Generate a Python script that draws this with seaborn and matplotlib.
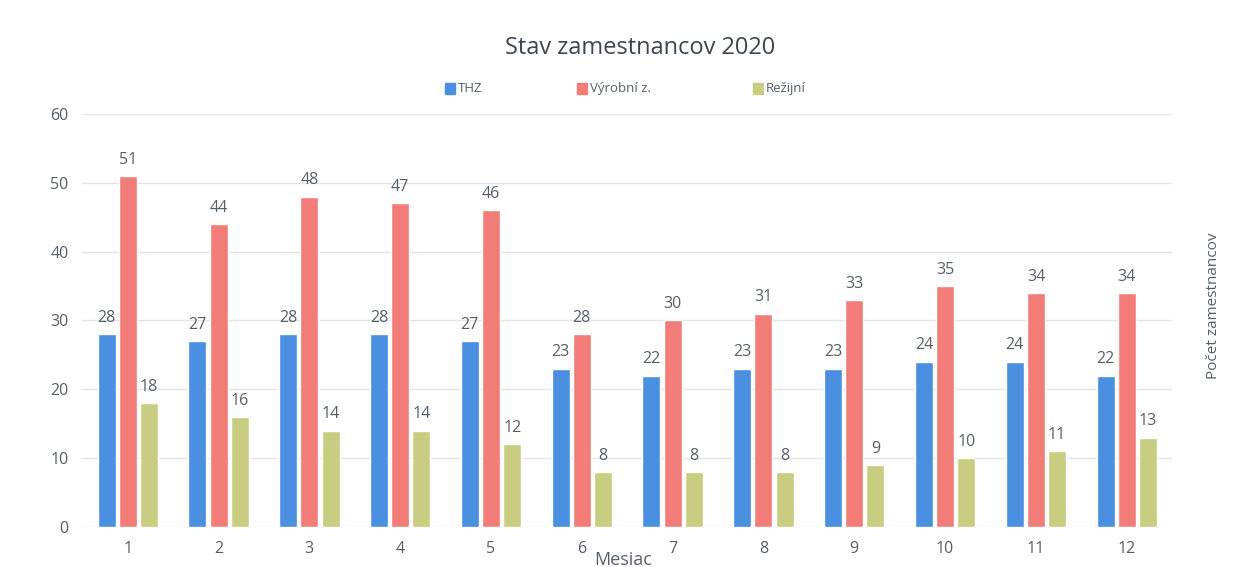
import numpy as np
import pandas as pd
import matplotlib
matplotlib.use("Agg")
import matplotlib.pyplot as plt
import seaborn as sns

# data
mesiace = [1, 2, 3, 4, 5, 6, 7, 8, 9, 10, 11, 12]
thz = [28, 27, 28, 28, 27, 23, 22, 23, 23, 24, 24, 22]
vyrobni = [51, 44, 48, 47, 46, 28, 30, 31, 33, 35, 34, 34]
rezijni = [18, 16, 14, 14, 12, 8, 8, 8, 9, 10, 11, 13]
skupiny = ["THZ", "Výrobní z.", "Režijní"]
farby = ["#4a8fe0", "#f27d78", "#c9cd82"]

df = pd.DataFrame({
    "Mesiac": mesiace * 3,
    "Počet": thz + vyrobni + rezijni,
    "Skupina": [skupiny[0]] * 12 + [skupiny[1]] * 12 + [skupiny[2]] * 12,
})

sns.set_style("white")
plt.rcParams["font.family"] = ["Open Sans", "DejaVu Sans"]

fig = plt.figure(figsize=(12.47, 5.67), dpi=100)
ax = fig.add_axes([0.066, 0.0705, 0.874, 0.7285])

sns.barplot(data=df, x="Mesiac", y="Počet", hue="Skupina", palette=farby,
            saturation=1, width=0.7, gap=0.15, ax=ax, legend=False)

for cont in ax.containers:
    ax.bar_label(cont, padding=6, color="#555f6b", fontsize=11.5)

ax.set_ylim(0, 60)
ax.set_yticks([0, 10, 20, 30, 40, 50, 60])
ax.set_xlim(-0.5, 11.5)
ax.yaxis.grid(True, color="#e4e4e4", linewidth=1)
ax.set_axisbelow(True)
sns.despine(ax=ax, left=True, bottom=True)
ax.tick_params(axis="both", length=0, labelsize=11.5, labelcolor="#555f6b")
ax.tick_params(axis="y", pad=10)
ax.tick_params(axis="x", pad=10)
ax.set_xlabel("")
ax.set_ylabel("")

fig.text(0.5, -0.004, "Mesiac", ha="center", va="bottom", fontsize=13, color="#555f6b")
fig.text(0.513, 0.915, "Stav zamestnancov 2020", ha="center", va="center",
         fontsize=17, color="#3c4650")
fig.text(0.973, 0.46, "Počet zamestnancov", rotation=90, ha="center", va="center",
         fontsize=11, color="#555f6b")

# legend
leg_x = [0.357, 0.463, 0.604]
for x, lab, c in zip(leg_x, skupiny, farby):
    fig.patches.append(plt.Rectangle((x, 0.835), 0.008, 0.018, color=c,
                                     transform=fig.transFigure, figure=fig))
    fig.text(x + 0.010, 0.844, lab, ha="left", va="center", fontsize=9.5, color="#555f6b")

fig.savefig("out.png", dpi=100)
